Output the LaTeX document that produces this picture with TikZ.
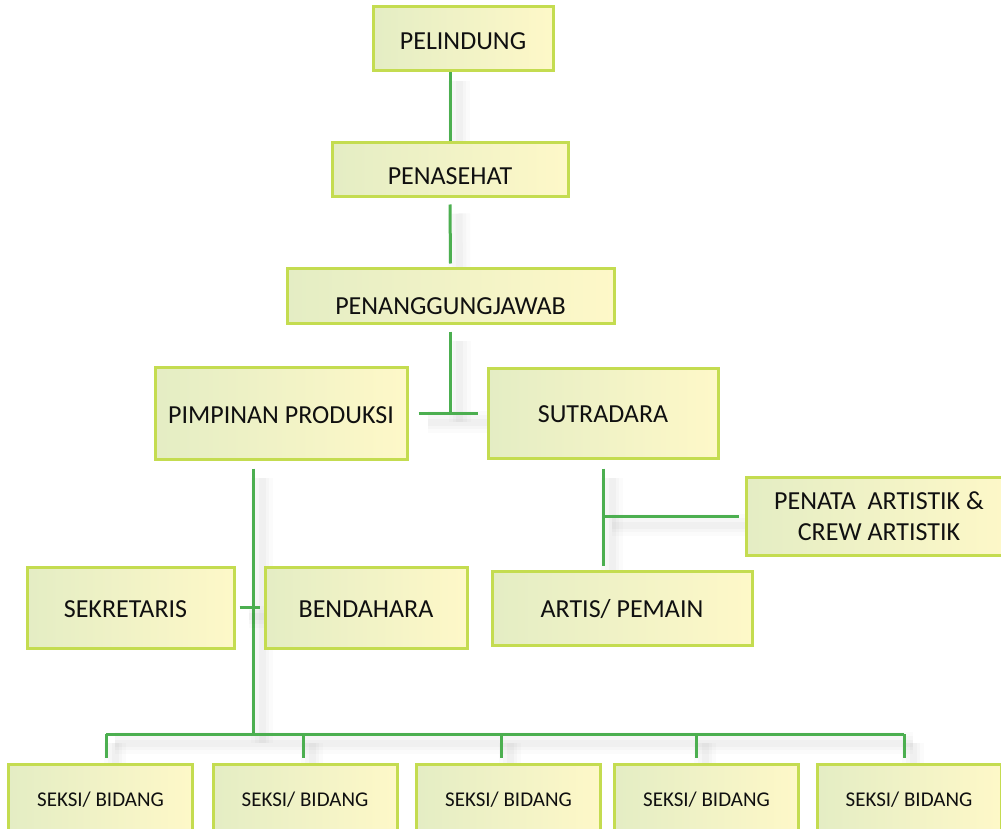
\documentclass[tikz,border=0pt]{standalone}
\usepackage{fontspec}
\setmainfont{Carlito}
\usepackage{xcolor}
\usepackage{tikz}
\usetikzlibrary{backgrounds,calc,positioning}
\definecolor{orgleft}{HTML}{E4EDC4}
\definecolor{orgright}{HTML}{FEF8C8}
\definecolor{orgborder}{HTML}{C4DC50}
\definecolor{orgline}{HTML}{4CAF50}
\definecolor{orgtext}{HTML}{101010}
\tikzset{
  orgbox/.style={draw=orgborder,line width=3pt,left color=orgleft,right color=orgright,
    inner sep=0pt,align=center,text=orgtext,font=\fontsize{26pt}{31pt}\selectfont},
  seksibox/.style={orgbox,minimum width=184pt,text height=42pt,text depth=30pt,
    font=\fontsize{21pt}{25pt}\selectfont},
  link/.style={draw=orgline,line width=3pt,
    preaction={draw=black,draw opacity=.015,line width=22pt,transform canvas={shift={(9pt,-9pt)}}},
    preaction={draw=black,draw opacity=.02,line width=14pt,transform canvas={shift={(9pt,-9pt)}}},
    preaction={draw=black,draw opacity=.025,line width=7pt,transform canvas={shift={(9pt,-9pt)}}}}
}

\begin{document}
\begin{tikzpicture}[x=1pt,y=-1pt]
    \useasboundingbox (0,0) rectangle (1001,829);
    \clip (0,0) rectangle (1001,829);
    % top of the chart
    \node[orgbox,minimum width=180pt,text height=43pt,text depth=21pt] (pelindung) at (463,39) {PELINDUNG};
    \node[orgbox,minimum width=236pt,text height=42pt,text depth=12pt] (penasehat) at (450,170) {PENASEHAT};
    \node[orgbox,minimum width=327pt,text height=46pt,text depth=9pt] (pj) at (450.5,295.5) {PENANGGUNGJAWAB};
    \node[orgbox,minimum width=252pt,text height=56pt,text depth=36pt] (pimpinan) at (281,413) {PIMPINAN PRODUKSI};
    \node[orgbox,minimum width=230pt,text height=54pt,text depth=36pt] (sutradara) at (603,413) {SUTRADARA};
    % sutradara side
    \node[orgbox,minimum width=266pt,minimum height=78pt] (penata) at (879,516) {PENATA\ \ ARTISTIK \&\\CREW ARTISTIK};
    \node[orgbox,minimum width=260pt,text height=46pt,text depth=28pt] (artis) at (622,608) {ARTIS/ PEMAIN};
    % pimpinan side
    \node[orgbox,minimum width=207pt,text height=50pt,text depth=31pt] (sekretaris) at (130.5,607.5) {SEKRETARIS\hspace{10pt}};
    \node[orgbox,minimum width=202pt,text height=50pt,text depth=31pt] (bendahara) at (366,607.5) {BENDAHARA};
    \foreach \x/\n in {100.5/1,305/2,508.5/3,706.5/4,909/5}
      \node[seksibox] (seksi\n) at (\x,800) {SEKSI/ BIDANG};
    \coordinate (trunk) at (253,734);
    \foreach \x/\n in {106/1,303/2,501/3,696/4,904/5}
      \coordinate (drop\n) at (\x,734);
    \coordinate (tee) at (pj.south |- pimpinan.east);
    \coordinate (sutfoot) at ($(sutradara.south |- artis.north)+(0,-4)$);
    \begin{scope}[on background layer]
      \draw[link] (pelindung.south -| penasehat.north) -- (penasehat.north);
      \draw[link] ([yshift=-6pt]penasehat.south) -- ([yshift=3pt]pj.north);
      \draw[link] ([yshift=-7pt]pj.south) -- (tee);
      \draw[link] ([xshift=10pt]pimpinan.east) -- ([xshift=-9pt]sutradara.west);
      \draw[link] ([yshift=-9pt]sutradara.south) -- (sutfoot);
      \draw[link] (sutradara.south |- penata.west) -- ([xshift=-6pt]penata.west);
      \draw[link] (trunk |- pimpinan.south) ++(0,8) -- (trunk);
      \draw[link] ([xshift=4pt]sekretaris.east) -- ([xshift=-4pt]bendahara.west);
      \draw[link] (drop1) -- (drop5);
      \foreach \n in {1,...,5}
        \draw[link] (drop\n) -- ++(0,24);
    \end{scope}
\end{tikzpicture}
\end{document}
